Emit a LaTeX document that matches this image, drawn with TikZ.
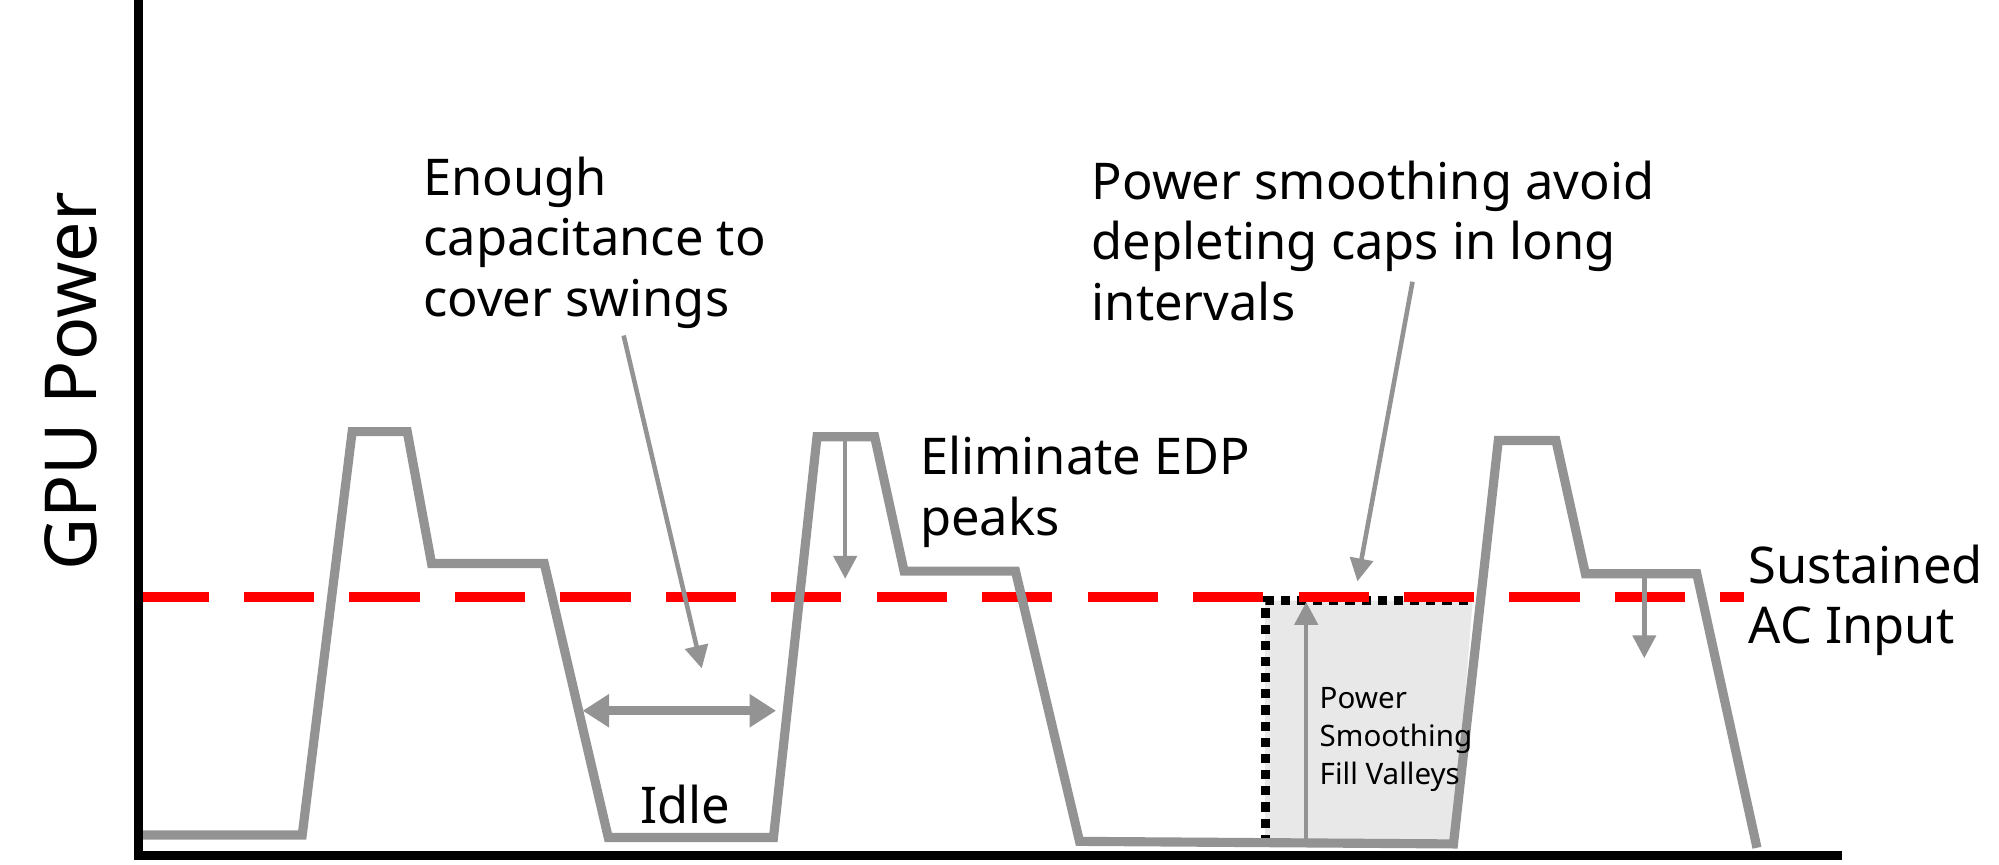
\documentclass[tikz,border=0pt]{standalone}
\usepackage{fontspec}
\setmainfont{Noto Sans}
\usetikzlibrary{arrows.meta,positioning}

\tikzset{
  curve/.style={draw=gray!85,line width=2.6pt,line join=miter},
  note/.style={align=left,inner sep=0pt,font=\fontsize{14.4}{17.2}\selectfont},
  small/.style={align=left,inner sep=0pt,font=\fontsize{8.4}{10.9}\selectfont},
  pointer/.style={draw=gray!85,line width=1.3pt,-{Triangle[length=6.5pt,width=6.5pt]}},
}

\begin{document}
\begin{tikzpicture}[x=0.0128cm,y=-0.0128cm]
  \useasboundingbox (0,0) rectangle (1561,675);

  % gray fill area and dotted outline
  \fill[gray!18] (988,469) -- (1150,469) -- (1135,659) -- (988,659) -- cycle;
  \draw[line width=2.6pt,dotted] (988,659) -- (988,469) -- (1150,469);

  % sustained input
  \draw[red,line width=2.8pt,dash pattern=on 20pt off 10pt] (108,466) -- (1362,466);

  % power trace
  \draw[curve] (110,652) -- (236,652) -- (275,337) -- (318,337) -- (337,440)
    -- (425,440) -- (475,654) -- (604,654) -- (638,341) -- (683,341)
    -- (706,446) -- (793,446) -- (843,657) -- (1135,659) -- (1170,344)
    -- (1215,344) -- (1238,448) -- (1325,448) -- (1372,662);

  % axes
  \draw[line width=2.6pt] (108,0) -- (108,668) -- (1438,668);
  \node[rotate=90,font=\fontsize{20.4}{24}\selectfont] (ylabel) at (55,298) {GPU Power};

  % labels
  \node[note,anchor=north west] (caps) at (330,122) {Enough\\capacitance to\\cover swings};
  \node[note,anchor=north west] (avoid) at (852,125) {Power smoothing avoid\\depleting caps in long\\intervals};
  \node[note,anchor=north west] (edp) at (718,340) {Eliminate EDP\\peaks};
  \node[note,anchor=north west] (ac) at (1365,425) {Sustained\\AC Input};
  \node[note] (idle) at (535,628) {Idle};
  \node[small,anchor=north west] (fill) at (1030,536) {Power\\Smoothing\\Fill Valleys};

  % pointers
  \coordinate (capsA) at (487,262);
  \coordinate (capsB) at (548,522);
  \coordinate (avoidA) at (1103,220);
  \coordinate (avoidB) at (1060,454);
  \coordinate (edpA) at (660,341);
  \coordinate (edpB) at (660,452);
  \coordinate (acA) at (1284,448);
  \coordinate (acB) at (1284,514);
  \coordinate (fillA) at (1020,657);
  \coordinate (fillB) at (1020,470);
  \coordinate (idleA) at (455,555);
  \coordinate (idleB) at (606,555);
  \draw[pointer] (capsA) -- (capsB);
  \draw[pointer] (avoidA) -- (avoidB);
  \draw[pointer] (edpA) -- (edpB);
  \draw[pointer] (acA) -- (acB);
  \draw[pointer] (fillA) -- (fillB);
  \draw[pointer,line width=2.6pt,{Triangle[length=7.5pt,width=9pt]}-{Triangle[length=7.5pt,width=9pt]}] (idleA) -- (idleB);
\end{tikzpicture}
\end{document}
